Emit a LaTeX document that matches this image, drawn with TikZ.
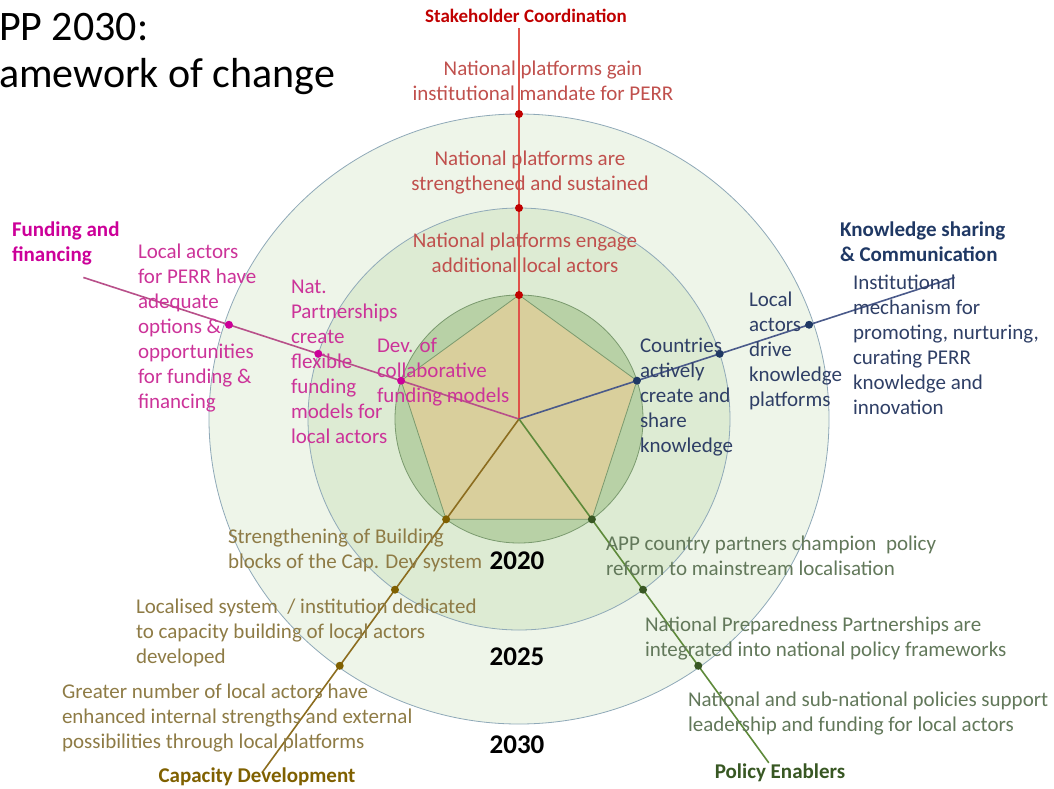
\documentclass[tikz,border=0pt]{standalone}
\usepackage{fontspec}
\setmainfont{Carlito}

\definecolor{stakered}{HTML}{C00000}
\definecolor{stakeline}{HTML}{E0524A}
\definecolor{stakelbl}{HTML}{C0504D}
\definecolor{fundmag}{HTML}{CC0099}
\definecolor{fundline}{HTML}{B8508A}
\definecolor{fundlbl}{HTML}{CC3399}
\definecolor{knownavy}{HTML}{1F3864}
\definecolor{knowline}{HTML}{4A5A8A}
\definecolor{knowlbl}{HTML}{2F3F66}
\definecolor{capbrown}{HTML}{7F6000}
\definecolor{capline}{HTML}{8C6D1F}
\definecolor{caplbl}{HTML}{8E7B45}
\definecolor{polgreen}{HTML}{385723}
\definecolor{polline}{HTML}{5E8A3A}
\definecolor{pollbl}{HTML}{62785A}
\definecolor{ringout}{HTML}{EEF5E9}
\definecolor{ringmid}{HTML}{DDEBD3}
\definecolor{ringin}{HTML}{B8D1A6}
\definecolor{ringedge}{HTML}{8FA9B8}
\definecolor{pentfill}{HTML}{D9CF9C}
\definecolor{pentedge}{HTML}{7A9A6E}

\begin{document}
\begin{tikzpicture}[x=0.5pt, y=-0.5pt,
  every node/.style = {inner sep=0pt, outer sep=0pt},
  lbl/.style = {align=left, anchor=west, font=\fontsize{10.5}{12.5}\selectfont},
  head/.style = {align=left, font=\bfseries\fontsize{10.5}{12.5}\selectfont},
  year/.style = {font=\bfseries\fontsize{13.5}{16}\selectfont},
  dot/.style = {circle, minimum size=4pt, fill=#1},
  axis/.style = {line width=0.8pt, draw=#1}]
  \useasboundingbox (0,0) rectangle (1054,788);
  \coordinate (o) at (519,419);
  % rings and pentagon
  \filldraw[fill=ringout, draw=ringedge] (o) circle[x radius=310, y radius=305];
  \filldraw[fill=ringmid, draw=ringedge] (o) circle[radius=211];
  \filldraw[fill=ringin, draw=pentedge] (o) circle[radius=124];
  \filldraw[fill=pentfill, draw=pentedge] ([shift={(-90:124)}]o) -- ([shift={(-18:124)}]o)
    -- ([shift={(54:124)}]o) -- ([shift={(126:124)}]o) -- ([shift={(198:124)}]o) -- cycle;
  % axes with milestones
  \foreach \ang/\len/\col/\dcol/\nm in {-90/391/stakeline/stakered/sc, 198/458/fundline/fundmag/ff,
      -18/458/knowline/knownavy/ks, 126/437/capline/capbrown/cd, 54/425/polline/polgreen/pe} {
    \coordinate (\nm) at ([shift={(\ang:\len)}]o);
    \draw[axis=\col] (o) -- (\nm);
    \foreach \r [count=\i] in {124,211,305}
      \node[dot=\dcol] (\nm\i) at ([shift={(\ang:\r)}]o) {};
  }
  % title
  \node[anchor=west, align=left, font=\fontsize{21}{23.5}\selectfont] (title) at (-1,54)
    {PP 2030:\\amework of change};
  % years
  \node[year] (y20) at (517,561) {2020};
  \node[year] (y25) at (517,657) {2025};
  \node[year] (y30) at (517,745) {2030};
  % stakeholder coordination
  \node[head, font=\bfseries\fontsize{9.5}{12}\selectfont, text=stakered] (scH) at (526,16)
    {Stakeholder Coordination};
  \node[lbl, anchor=center, align=center, text=stakelbl] (sc30) at (543,81)
    {National platforms gain\\institutional mandate for PERR};
  \node[lbl, anchor=center, align=center, text=stakelbl] (sc25) at (530,173)
    {National platforms are\\strengthened and sustained};
  \node[lbl, anchor=center, align=center, text=stakelbl] (sc20) at (525,253)
    {National platforms engage\\additional local actors};
  % funding and financing
  \node[head, anchor=west, text=fundmag] (ffH) at (12,243) {Funding and\\financing};
  \node[lbl, text=fundlbl] (ff30) at (138,328)
    {Local actors\\for PERR have\\adequate\\options \&\\opportunities\\for funding \&\\financing};
  \node[lbl, text=fundlbl] (ff25) at (291,362)
    {Nat.\\Partnerships\\create\\flexible\\funding\\models for\\local actors};
  \node[lbl, text=fundlbl] (ff20) at (377,372) {Dev. of\\collaborative\\funding models};
  % knowledge sharing
  \node[head, anchor=west, text=knownavy] (ksH) at (840,242) {Knowledge sharing\\\& Communication};
  \node[lbl, text=knowlbl] (ks30) at (853,345)
    {Institutional\\mechanism for\\promoting, nurturing,\\curating PERR\\knowledge and\\innovation};
  \node[lbl, text=knowlbl] (ks25) at (749,351) {Local\\actors\\drive\\knowledge\\platforms};
  \node[lbl, text=knowlbl] (ks20) at (640,397) {Countries\\actively\\create and\\share\\knowledge};
  % capacity development
  \node[head, text=capbrown] (cdH) at (257,777) {Capacity Development};
  \node[lbl, text=caplbl] (cd20) at (228,550) {Strengthening of Building\\blocks of the Cap. Dev system};
  \node[lbl, text=caplbl] (cd25) at (136,633)
    {Localised system \ / institution dedicated\\to capacity building of local actors\\developed};
  \node[lbl, text=caplbl] (cd30) at (62,718)
    {Greater number of local actors have\\enhanced internal strengths and external\\possibilities through local platforms};
  % policy enablers
  \node[head, text=polgreen] (peH) at (780,773) {Policy Enablers};
  \node[lbl, text=pollbl] (pe20) at (606,556)
    {APP country partners champion \ policy\\reform to mainstream localisation};
  \node[lbl, text=pollbl] (pe25) at (645,638)
    {National Preparedness Partnerships are\\integrated into national policy frameworks};
  \node[lbl, text=pollbl] (pe30) at (688,713)
    {National and sub-national policies support\\leadership and funding for local actors};
\end{tikzpicture}
\end{document}
